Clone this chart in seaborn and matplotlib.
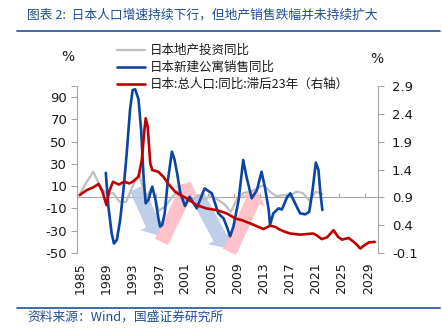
import matplotlib
matplotlib.use("Agg")
import matplotlib.pyplot as plt
from matplotlib.font_manager import FontProperties
import seaborn as sns
import numpy as np

sns.set_style("white")
plt.rcParams['font.family'] = ['DejaVu Sans', 'Noto Sans CJK SC']
plt.rcParams['axes.unicode_minus'] = False

CJK = ['Noto Sans CJK SC', 'DejaVu Sans']

# ---------------- data ----------------
title = "图表 2:  日本人口增速持续下行，但地产销售跌幅并未持续扩大"
source = "资料来源：Wind，国盛证券研究所"
label_gray = "日本地产投资同比"
label_blue = "日本新建公寓销售同比"
label_red = "日本:总人口:同比:滞后23年（右轴）"

x_tick_years = [1985, 1989, 1993, 1997, 2001, 2005, 2009, 2013, 2017, 2021, 2025, 2029]
left_ticks = [-50, -30, -10, 10, 30, 50, 70, 90]
left_tick_labels = ["-50", "-30", "-10", "10", "30", "50", "70", "90"]
right_ticks = [-0.1, 0.4, 0.9, 1.4, 1.9, 2.4, 2.9]
right_tick_labels = ["-0.1", "0.4", "0.9", "1.4", "1.9", "2.4", "2.9"]

# 日本地产投资同比 (%)
gray_year = [1985, 1986, 1987, 1988, 1989, 1990, 1991, 1992, 1993, 1994, 1995,
             1996, 1997, 1998, 1999, 2000, 2001, 2002, 2003, 2004, 2005, 2006,
             2007, 2008, 2009, 2010, 2011, 2012, 2013, 2014, 2015, 2016, 2017,
             2018, 2019, 2020, 2021, 2022]
gray_val = [4, 14, 23, 10, 3, 4, -4, -4, 10, 21, 0,
            9, -12, -8, 0, 6, -2, -4, 2, -2, 2, -2,
            -6, -13, -1, 4, 5, 8, 11, 5, 1, 2, 1,
            5, 4, -3, 5, 3]

# 日本新建公寓销售同比 (%)
blue_year = [1988.9, 1989.3, 1989.8, 1990.15, 1990.6, 1991.1, 1991.6, 1992.1, 1992.6,
             1993.0, 1993.4, 1993.9, 1994.3, 1994.7, 1995.0, 1995.4, 1996.0, 1996.5,
             1996.9, 1997.2, 1997.5, 1997.9, 1998.4, 1999.0, 1999.4, 1999.8, 2000.3,
             2001.0, 2001.7, 2002.8, 2004.0, 2004.5, 2005.1, 2005.6, 2006.1, 2006.9,
             2007.4, 2007.9, 2008.4, 2009.2, 2009.9, 2010.4, 2011.2, 2012.0, 2012.7,
             2013.2, 2013.8, 2014.0, 2014.5, 2015.3, 2015.8, 2016.6, 2017.1, 2018.2,
             2018.6, 2019.4, 2020.0, 2020.5, 2021.0, 2021.4, 2021.7, 2022.0]
blue_val = [22, -8.5, -32.5, -41.5, -38, -20, 6.6, 39.6, 78.5,
            96.4, 97, 88, 60.5, 15.6, -5.4, -2.4, 9.6, -2.4,
            -17.4, -26.3, -25, -14.4, 15.6, 41, 34, 21.5, 3.6,
            -7.8, 0.6, -9.9, 8, 6, 3.6, -5.4, -14.4, -18.9,
            -26.4, -35, -26.4, -2.4, 33.5, 18.5, -0.9, 6.6, 23,
            9.5, -11.4, -24.8, -14.4, -9.9, -11, 0, 3.6, -9.9,
            -14.4, -15.3, -12.9, 6.6, 31.2, 24.6, 3.6, -11.4]

# 日本:总人口:同比:滞后23年 (%, right axis)
red_year = [1984.9, 1986.0, 1987.0, 1987.8, 1988.4, 1989.0, 1989.4, 1990.0, 1990.9,
            1991.7, 1992.5, 1993.0, 1993.9, 1994.4, 1994.8, 1995.0, 1995.3, 1995.7,
            1996.0, 1996.9, 1997.7, 1998.4, 1999.5, 2000.3, 2001.3, 2002.8, 2004.3,
            2005.9, 2007.4, 2008.7, 2009.7, 2011.0, 2012.0, 2013.0, 2014.0, 2014.8,
            2015.5, 2016.3, 2017.1, 2018.6, 2020.6, 2021.1, 2021.9, 2022.7, 2023.7,
            2024.4, 2025.0, 2026.0, 2027.0, 2027.8, 2028.3, 2029.1, 2030.0]
red_val = [0.94, 1.03, 1.08, 1.14, 1.00, 0.76, 1.00, 1.18, 1.13,
           1.18, 1.15, 1.18, 1.27, 1.57, 2.11, 2.32, 2.17, 1.51,
           1.39, 1.36, 1.27, 1.15, 1.00, 0.94, 0.88, 0.76, 0.70,
           0.67, 0.61, 0.52, 0.49, 0.43, 0.38, 0.33, 0.39, 0.37,
           0.32, 0.28, 0.25, 0.23, 0.25, 0.22, 0.15, 0.18, 0.31,
           0.19, 0.14, 0.17, 0.08, -0.02, 0.03, 0.09, 0.10]

# trend arrows (start year, start value, end year, end value, colour)
arrows = [
    (1993.6, 8.0, 1996.8, -34.0, '#B4C7E7'),
    (1997.4, -40.0, 2001.9, 14.0, '#FFB8C0'),
    (2002.9, 1.5, 2007.2, -45.5, '#B4C7E7'),
    (2007.8, -49.0, 2012.1, 6.0, '#FFB8C0'),
]

# ---------------- figure ----------------
W, H = 442, 335
fig = plt.figure(figsize=(W / 100, H / 100), dpi=100)
ax = fig.add_axes([77 / W, 1 - 253 / H, (378 - 77) / W, (253 - 86) / H])
ax2 = ax.twinx()

c_gray = '#BFBFBF'
c_blue = '#0B45A3'
c_red = '#C00000'
c_axis = '#A6A6A6'
c_title = '#1F4E9A'

for (x0, y0, x1, y1, col) in arrows:
    ax.annotate('', xy=(x1, y1), xytext=(x0, y0),
                arrowprops=dict(arrowstyle='simple,head_length=0.6,head_width=1.4,tail_width=0.75',
                                mutation_scale=14, fc=col, ec='none', alpha=0.85,
                                shrinkA=0, shrinkB=0),
                zorder=0.5)

sns.lineplot(x=gray_year, y=gray_val, ax=ax, color=c_gray, linewidth=1.6,
             label=label_gray, legend=False, zorder=2)
sns.lineplot(x=blue_year, y=blue_val, ax=ax, color=c_blue, linewidth=1.9,
             label=label_blue, legend=False, zorder=3)
sns.lineplot(x=red_year, y=red_val, ax=ax2, color=c_red, linewidth=1.9,
             label=label_red, legend=False, zorder=3)

ax.set_xlim(1984.5, 2030.5)
ax.set_ylim(-50, 100)
ax2.set_ylim(-0.1, 2.9)

ax.set_yticks(left_ticks + [100])
ax.set_yticklabels(left_tick_labels + [""])
ax2.set_yticks(right_ticks)
ax2.set_yticklabels(right_tick_labels)
ax.set_xticks(x_tick_years)
ax.set_xticklabels([str(y) for y in x_tick_years], rotation=90)
ax.set_xlabel("")
ax.set_ylabel("")
ax2.set_ylabel("")

ax.tick_params(axis='x', length=0, pad=6.5, labelsize=9, labelcolor='#1a1a1a')
ax.tick_params(axis='y', left=True, length=4, width=0.8, color=c_axis, pad=3,
               labelsize=9.5, labelcolor='#1a1a1a')
ax2.tick_params(axis='y', right=True, length=4, width=0.8, color=c_axis, pad=6,
                labelsize=9.5, labelcolor='#1a1a1a')

for s in ['top', 'right', 'bottom']:
    ax.spines[s].set_visible(False)
for s in ['top', 'left', 'bottom']:
    ax2.spines[s].set_visible(False)
ax.spines['left'].set_color(c_axis)
ax.spines['left'].set_linewidth(0.8)
ax2.spines['right'].set_color(c_axis)
ax2.spines['right'].set_linewidth(0.8)
ax.grid(False)
ax2.grid(False)

# zero line acting as category axis (ticks at category boundaries)
secax = ax.secondary_xaxis((0 - (-50)) / 150)
secax.set_xticks(np.arange(1984.5, 2031, 4))
secax.xaxis.set_ticks_position('bottom')
secax.tick_params(axis='x', direction='in', length=3, width=0.8, color=c_axis,
                  labelbottom=False, labeltop=False)
secax.spines['bottom'].set_color(c_axis)
secax.spines['bottom'].set_linewidth(0.8)
for s in ['top', 'left', 'right']:
    if s in secax.spines:
        secax.spines[s].set_visible(False)

# legend
h1, l1 = ax.get_legend_handles_labels()
h2, l2 = ax2.get_legend_handles_labels()
leg = fig.legend(h1 + h2, l1 + l2, loc='upper left',
                 bbox_to_anchor=(117 / W, 1 - 44 / H),
                 prop=FontProperties(family=CJK, size=9),
                 frameon=False, handlelength=2.2, handletextpad=0.45,
                 labelspacing=0.33, borderaxespad=0, borderpad=0)
for t in leg.get_texts():
    t.set_color('#1a1a1a')

# percent labels
fig.text(68 / W, 1 - 57 / H, "%", ha='center', va='center', fontsize=10, color='#1a1a1a')
fig.text(377 / W, 1 - 59 / H, "%", ha='center', va='center', fontsize=10, color='#1a1a1a')

# title, rules, source
fig.text(27 / W, 1 - 15 / H, title, ha='left', va='center', fontsize=9.2,
         color=c_title, family=CJK, style='italic')
fig.add_artist(plt.Line2D([17 / W, 440 / W], [1 - 30.7 / H, 1 - 30.7 / H],
                          transform=fig.transFigure, color='#2E5FA8', linewidth=1.3))
fig.add_artist(plt.Line2D([17 / W, 440 / W], [1 - 308 / H, 1 - 308 / H],
                          transform=fig.transFigure, color='#2E5FA8', linewidth=1.3))
fig.text(27 / W, 1 - 317 / H, source, ha='left', va='center', fontsize=9.2,
         color=c_title, family=CJK, style='italic')

fig.savefig("out.png", dpi=100)
